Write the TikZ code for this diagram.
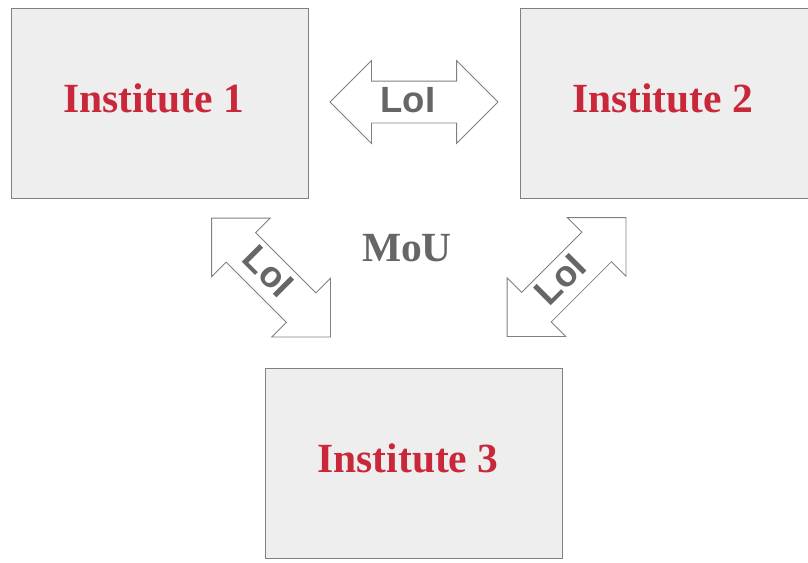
\documentclass[tikz,border=0pt]{standalone}
\usepackage{fontspec}
\setmainfont{Liberation Serif}
\setsansfont{Liberation Sans}
\usepackage{tikz}
\usetikzlibrary{shapes.arrows}
\definecolor{instred}{HTML}{C9283A}
\definecolor{darkgray}{HTML}{666666}
\definecolor{boxfill}{HTML}{EEEEEE}
\definecolor{boxline}{HTML}{808080}
\tikzstyle{institute} = [rectangle, minimum width=297pt, minimum height=190pt, inner sep=0pt, draw=boxline, fill=boxfill, line width=0.9pt]
\tikzstyle{insttext} = [xshift=-6pt, yshift=4.5pt, text=instred, font=\fontsize{41.5}{48}\selectfont\bfseries]
\tikzstyle{loi} = [double arrow, double arrow head extend=20.5pt, double arrow tip angle=90, minimum height=168pt, inner xsep=0pt, inner ysep=4.5pt, text height=26pt, text depth=6pt, draw=boxline, fill=white, line width=0.8pt, text=darkgray, font=\sffamily\fontsize{36.5}{42}\selectfont\bfseries]

\begin{document}
\begin{tikzpicture}[x=1pt,y=-1pt]
\useasboundingbox (0,0) rectangle (808,562);
% the three partners
\node (inst1) [institute, label={[insttext]center:Institute 1}] at (159.5,103) {};
\node (inst2) [institute, label={[insttext]center:Institute 2}] at (668.5,103) {};
\node (inst3) [institute, label={[insttext]center:Institute 3}] at (414,463) {};
% letters of intent between each pair
\node (loi12) [loi] at (414,102) {LoI\rule{12pt}{0pt}};
\node (loi13) [loi, rotate=-45] at (271,277.5) {LoI\rule{12pt}{0pt}};
\node (loi23) [loi, rotate=45] at (566.5,277) {LoI\rule{12pt}{0pt}};
\node (mou) [text=darkgray, font=\fontsize{41.5}{48}\selectfont\bfseries] at (407,248) {MoU};
\end{tikzpicture}
\end{document}
